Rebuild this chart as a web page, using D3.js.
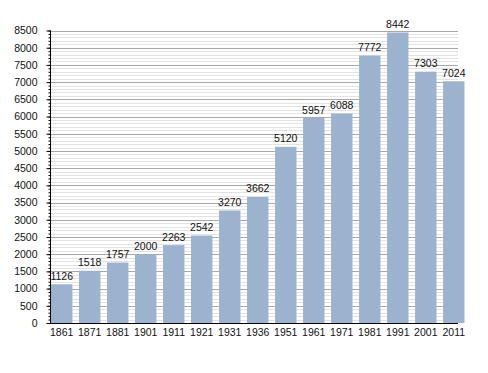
<!DOCTYPE html>
<html>
<head>
<meta charset="utf-8">
<script src="https://cdn.jsdelivr.net/npm/d3@7"></script>
<style>
  body { margin: 0; background: #fff; }
  svg { display: block; font-family: "Liberation Sans", Arial, sans-serif; }
</style>
</head>
<body>
<svg width="488" height="373"></svg>
<script>
const years = ['1861', '1871', '1881', '1901', '1911', '1921', '1931', '1936', '1951', '1961', '1971', '1981', '1991', '2001', '2011']
const population = [1126, 1518, 1757, 2000, 2263, 2542, 3270, 3662, 5120, 5957, 6088, 7772, 8442, 7303, 7024]
const yTicks = d3.range(0, 8501, 500)
const yMinor = d3.range(0, 8501, 100)

const svg = d3.select('svg')
const plotLeft = 50, plotRight = 458, plotTop = 30.5, plotBottom = 323

const y = d3.scaleLinear().domain([0, 8500]).range([plotBottom, plotTop])
const x = d3.scaleBand()
  .domain(years)
  .range([51, plotRight + 6.5])
  .paddingInner(0.236)
  .paddingOuter(0)

// minor grid
svg.append('g')
  .selectAll('line')
  .data(yMinor.filter(d => d % 500 !== 0))
  .enter()
  .append('line')
  .attr('x1', plotLeft).attr('x2', plotRight)
  .attr('y1', d => Math.round(y(d)) + 0.5)
  .attr('y2', d => Math.round(y(d)) + 0.5)
  .attr('stroke', '#e3e3e3')

// major grid
svg.append('g')
  .selectAll('line')
  .data(yTicks.filter(d => d > 0))
  .enter()
  .append('line')
  .attr('x1', plotLeft).attr('x2', plotRight)
  .attr('y1', d => Math.round(y(d)) + 0.5)
  .attr('y2', d => Math.round(y(d)) + 0.5)
  .attr('stroke', '#a8a8a8')

// bars
svg.append('g')
  .selectAll('rect')
  .data(population)
  .enter()
  .append('rect')
  .attr('x', (d, i) => x(years[i]))
  .attr('y', d => y(d))
  .attr('width', x.bandwidth())
  .attr('height', d => plotBottom - y(d))
  .attr('fill', '#9bb3cf')

// value labels
svg.append('g')
  .selectAll('text')
  .data(population)
  .enter()
  .append('text')
  .attr('x', (d, i) => x(years[i]) + x.bandwidth() / 2)
  .attr('y', d => y(d) - 4.5)
  .attr('text-anchor', 'middle')
  .style('font-size', '10.5px')
  .attr('fill', '#111')
  .text(d => d)

// y axis
const yAxis = d3.axisLeft(y).tickValues(yTicks).tickSize(4).tickPadding(9).tickFormat(d3.format('d'))
const yMinorAxis = d3.axisLeft(y).tickValues(yMinor).tickSize(2).tickFormat('')
svg.append('g')
  .attr('transform', `translate(${plotLeft + 0.5},0)`)
  .call(yMinorAxis)
  .call(g => g.select('.domain').remove())
svg.append('g')
  .attr('transform', `translate(${plotLeft + 0.5},0)`)
  .call(yAxis)
  .call(g => g.select('.domain').attr('d', `M0,${plotTop}V${plotBottom}`))
  .call(g => g.selectAll('text').style('font-size', '10.5px').attr('fill', '#111'))

// x axis
svg.append('g')
  .attr('transform', `translate(0,${plotBottom + 0.5})`)
  .call(d3.axisBottom(x).tickSize(0).tickPadding(5))
  .call(g => g.select('.domain').attr('d', `M${plotLeft},0H${plotRight}`))
  .call(g => g.selectAll('text').style('font-size', '10.5px').attr('fill', '#111'))
</script>
</body>
</html>
